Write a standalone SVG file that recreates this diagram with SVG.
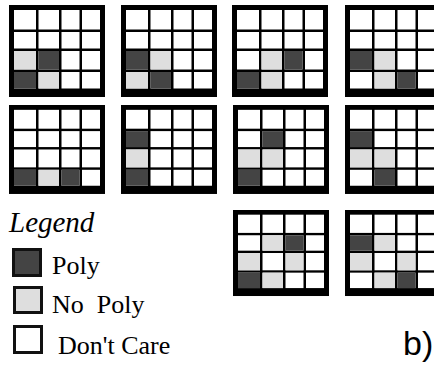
<svg xmlns="http://www.w3.org/2000/svg" xmlns:xlink="http://www.w3.org/1999/xlink" width="434" height="368" viewBox="0 0 434 368">
<style>
.k{fill:#000}
.w{fill:#fff}
.d{fill:#444}
.l{fill:#dedede}
.t{font-family:"Liberation Serif","Times New Roman",serif;font-size:26px;fill:#000}
.box{stroke:#111;stroke-width:3}
</style>
<defs>
<g id="base">
<rect class="k" x="0" y="0" width="96" height="92"/>
<rect class="w" x="5" y="5" width="22" height="19.5"/><rect class="w" x="29.5" y="5" width="20.5" height="19.5"/><rect class="w" x="52.5" y="5" width="18" height="19.5"/><rect class="w" x="73" y="5" width="18" height="19.5"/>
<rect class="w" x="5" y="27" width="22" height="16.5"/><rect class="w" x="29.5" y="27" width="20.5" height="16.5"/><rect class="w" x="52.5" y="27" width="18" height="16.5"/><rect class="w" x="73" y="27" width="18" height="16.5"/>
<rect class="w" x="5" y="46" width="22" height="18.5"/><rect class="w" x="29.5" y="46" width="20.5" height="18.5"/><rect class="w" x="52.5" y="46" width="18" height="18.5"/><rect class="w" x="73" y="46" width="18" height="18.5"/>
<rect class="w" x="5" y="67" width="22" height="16.5"/><rect class="w" x="29.5" y="67" width="20.5" height="16.5"/><rect class="w" x="52.5" y="67" width="18" height="16.5"/><rect class="w" x="73" y="67" width="18" height="16.5"/>
</g>
</defs>
<g id="grid1" transform="translate(9,5)">
<use xlink:href="#base"/>
<rect class="l" x="5" y="46" width="22" height="18.5"/><rect class="d" x="29.5" y="46" width="20.5" height="18.5"/>
<rect class="d" x="5" y="67" width="22" height="16.5"/><rect class="l" x="29.5" y="67" width="20.5" height="16.5"/>
</g>
<g id="grid2" transform="translate(121,5)">
<use xlink:href="#base"/>
<rect class="d" x="5" y="46" width="22" height="18.5"/><rect class="l" x="29.5" y="46" width="20.5" height="18.5"/>
<rect class="l" x="5" y="67" width="22" height="16.5"/><rect class="d" x="29.5" y="67" width="20.5" height="16.5"/>
</g>
<g id="grid3" transform="translate(232,5)">
<use xlink:href="#base"/>
<rect class="l" x="29.5" y="46" width="20.5" height="18.5"/><rect class="d" x="52.5" y="46" width="18" height="18.5"/>
<rect class="d" x="5" y="67" width="22" height="16.5"/><rect class="l" x="29.5" y="67" width="20.5" height="16.5"/>
</g>
<g id="grid4" transform="translate(345,5)">
<use xlink:href="#base"/>
<rect class="d" x="5" y="46" width="22" height="18.5"/><rect class="l" x="29.5" y="46" width="20.5" height="18.5"/>
<rect class="l" x="29.5" y="67" width="20.5" height="16.5"/><rect class="d" x="52.5" y="67" width="18" height="16.5"/>
</g>
<g id="grid5" transform="translate(9,105) scale(1,0.967)">
<use xlink:href="#base"/>
<rect class="d" x="5" y="67" width="22" height="16.5"/><rect class="l" x="29.5" y="67" width="20.5" height="16.5"/><rect class="d" x="52.5" y="67" width="18" height="16.5"/>
</g>
<g id="grid6" transform="translate(121,105) scale(1,0.967)">
<use xlink:href="#base"/>
<rect class="d" x="5" y="27" width="22" height="16.5"/>
<rect class="l" x="5" y="46" width="22" height="18.5"/>
<rect class="d" x="5" y="67" width="22" height="16.5"/>
</g>
<g id="grid7" transform="translate(233,105) scale(1,0.967)">
<use xlink:href="#base"/>
<rect class="d" x="29.5" y="27" width="20.5" height="16.5"/>
<rect class="l" x="5" y="46" width="22" height="18.5"/><rect class="l" x="29.5" y="46" width="20.5" height="18.5"/>
<rect class="d" x="5" y="67" width="22" height="16.5"/>
</g>
<g id="grid8" transform="translate(345,105) scale(1,0.967)">
<use xlink:href="#base"/>
<rect class="d" x="5" y="27" width="22" height="16.5"/>
<rect class="l" x="5" y="46" width="22" height="18.5"/><rect class="l" x="29.5" y="46" width="20.5" height="18.5"/>
<rect class="d" x="29.5" y="67" width="20.5" height="16.5"/>
</g>
<g id="grid9" transform="translate(233,210) scale(1,0.935)">
<use xlink:href="#base"/>
<rect class="l" x="29.5" y="27" width="20.5" height="16.5"/><rect class="d" x="52.5" y="27" width="18" height="16.5"/>
<rect class="l" x="5" y="46" width="22" height="18.5"/><rect class="l" x="52.5" y="46" width="18" height="18.5"/>
<rect class="d" x="5" y="67" width="22" height="16.5"/><rect class="l" x="29.5" y="67" width="20.5" height="16.5"/>
</g>
<g id="grid10" transform="translate(345,210) scale(1,0.935)">
<use xlink:href="#base"/>
<rect class="d" x="5" y="27" width="22" height="16.5"/><rect class="l" x="29.5" y="27" width="20.5" height="16.5"/>
<rect class="l" x="5" y="46" width="22" height="18.5"/><rect class="l" x="52.5" y="46" width="18" height="18.5"/>
<rect class="l" x="29.5" y="67" width="20.5" height="16.5"/><rect class="d" x="52.5" y="67" width="18" height="16.5"/>
</g>
<g id="legend">
<text x="9" y="232" font-family="Liberation Serif, serif" font-style="italic" font-size="29">Legend</text>
<rect class="box d" x="13.5" y="249.5" width="27" height="26"/>
<text class="t" x="52" y="274">Poly</text>
<rect class="box l" x="14.5" y="287.5" width="27" height="25"/>
<text class="t" x="52" y="313" xml:space="preserve">No  Poly</text>
<rect class="box w" x="14.5" y="326.5" width="27" height="26"/>
<text class="t" x="58" y="354">Don't Care</text>
</g>
<text x="403" y="355" font-family="Liberation Sans, Arial, sans-serif" font-size="34" fill="#000">b)</text>
</svg>
